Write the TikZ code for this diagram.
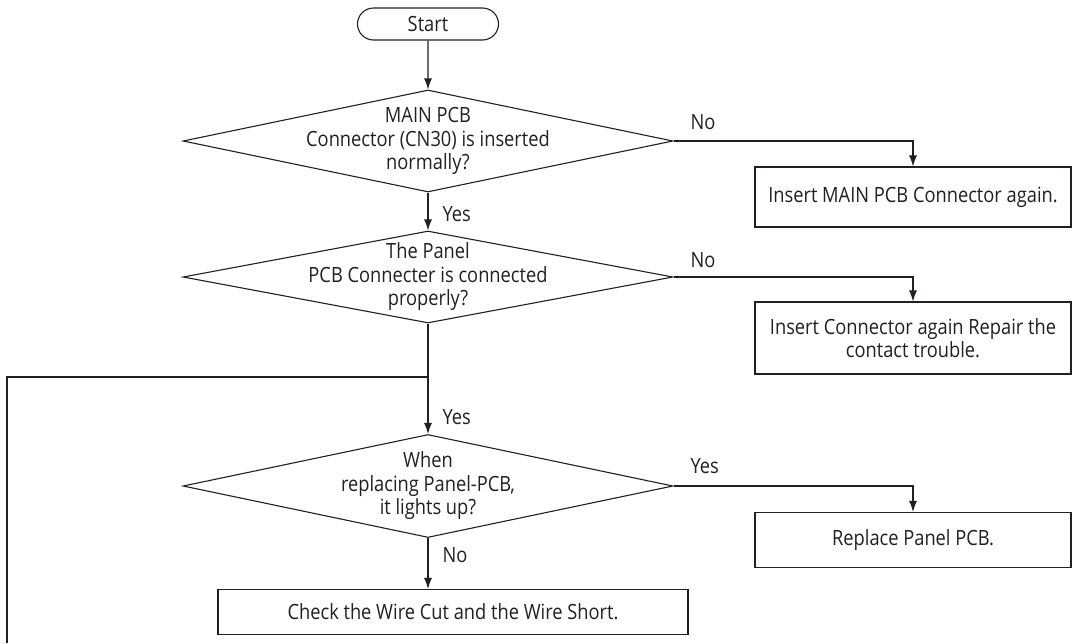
\documentclass[tikz,border=0pt]{standalone}
\usepackage{fontspec}
\setmainfont[FakeStretch=0.87]{Open Sans}
\usetikzlibrary{arrows.meta,shapes.geometric,shapes.misc}
\definecolor{inkgray}{RGB}{35,31,32}

\begin{document}
\begin{tikzpicture}[x=1pt,y=-1pt,line width=1.1pt,inkgray,
    font=\fontsize{21}{23.5}\selectfont,
    box/.style={draw,rectangle,minimum width=316pt,inner sep=0pt,align=center},
    decision/.style={draw,diamond,minimum width=490pt,inner sep=0pt},
    flow/.style={-{Latex[length=11pt,width=8pt]}},
    tag/.style={anchor=west,inner sep=0pt}]
    \useasboundingbox (0,0) rectangle (1087,643);

    % --- MAIN COLUMN ---
    \node[draw,rounded rectangle,minimum width=141pt,minimum height=32pt,inner sep=0pt] (start) at (428,24) {Start};
    \node[decision,minimum height=102pt,
        label={[align=center]center:{MAIN PCB\\Connector (CN30) is inserted\\normally?}}] (d1) at (428,141) {};
    \node[decision,minimum height=92pt,
        label={[align=center]center:{The Panel\\PCB Connecter is connected\\properly?}}] (d2) at (428,277) {};
    \node[decision,minimum height=103pt,
        label={[align=center]center:{When\\replacing Panel-PCB,\\it lights up?}}] (d3) at (428,486) {};
    \node[box,minimum width=470pt,minimum height=45pt] (b4) at (453,612) {Check the Wire Cut and the Wire Short.};

    % --- RIGHT COLUMN ---
    \node[box,minimum height=60pt] (b1) at (913,197) {Insert MAIN PCB Connector again.};
    \node[box,minimum height=72pt] (b2) at (913,338) {Insert Connector again Repair the\\contact trouble.};
    \node[box,minimum height=55pt] (b3) at (913,540) {Replace Panel PCB.};

    % --- CONNECTORS ---
    \draw[flow] (start) -- (d1);
    \draw[flow] (d1) -- (d2);
    \draw[flow] (d2) -- (d3);
    \draw[flow] (d1.east) -| (b1.north);
    \draw[flow] (d2.east) -| (b2.north);
    \draw[flow] (d3.east) -| (b3.north);
    \draw[flow] (d3.south) -- (d3.south |- b4.north);
    \coordinate (jn) at (428,377);
    \coordinate (lp) at (7,643);
    \draw (jn) -| (lp);

    % --- LABELS ---
    \node[tag] (y1) at (442,214) {Yes};
    \node[tag] (n1) at (690,122) {No};
    \node[tag] (n2) at (690,260) {No};
    \node[tag] (y2) at (442,417) {Yes};
    \node[tag] (y3) at (690,466) {Yes};
    \node[tag] (n3) at (442,555) {No};
\end{tikzpicture}
\end{document}
